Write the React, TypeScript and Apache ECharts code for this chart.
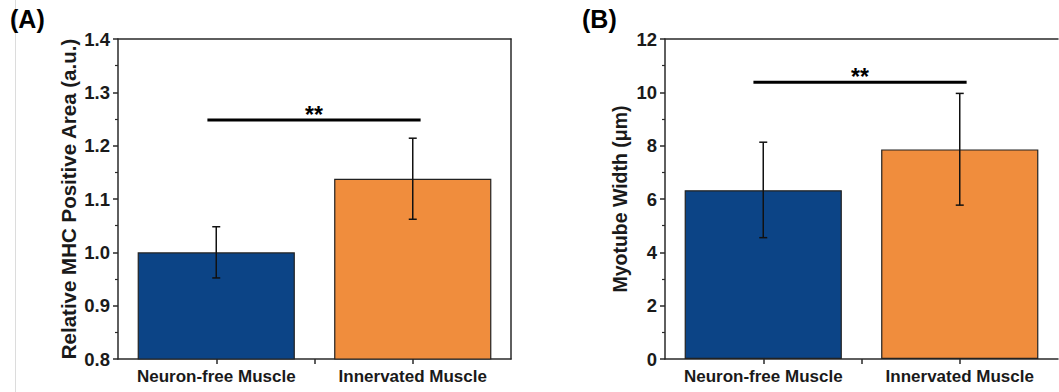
import React, { useEffect, useRef } from "react";
import * as echarts from "echarts";

const categories = ["Neuron-free Muscle", "Innervated Muscle"];
const barColors = ["#0c4486", "#f08d3d"];

// Panel A: Relative MHC Positive Area
const mhcMeans = [1.0, 1.138];
const mhcLow = [0.952, 1.062];
const mhcHigh = [1.048, 1.214];
const mhcSig = [0.455, 1.54, 1.248];

// Panel B: Myotube width
const widthMeans = [6.33, 7.86];
const widthLow = [4.55, 5.77];
const widthHigh = [8.13, 9.96];
const widthSig = [0.45, 1.535, 10.38];

const FONT = "'Liberation Sans', Arial, sans-serif";
const TXT = "#1a1a1a";
const AX = "#2a2a2a";

function errorSeries(xIdx: number, yIdx: number, low: number[], high: number[]) {
  return {
    type: "custom",
    xAxisIndex: xIdx,
    yAxisIndex: yIdx,
    silent: true,
    z: 5,
    data: low.map((l, i) => [i, l, high[i]]),
    renderItem: (params: any, api: any) => {
      const lo = api.coord([api.value(0), api.value(1)]);
      const hi = api.coord([api.value(0), api.value(2)]);
      const cap = 4;
      const style = { stroke: "#111", lineWidth: 1.5 };
      return {
        type: "group",
        children: [
          { type: "line", shape: { x1: lo[0], y1: lo[1], x2: hi[0], y2: hi[1] }, style },
          { type: "line", shape: { x1: lo[0] - cap, y1: lo[1], x2: lo[0] + cap, y2: lo[1] }, style },
          { type: "line", shape: { x1: hi[0] - cap, y1: hi[1], x2: hi[0] + cap, y2: hi[1] }, style },
        ],
      };
    },
  };
}

function sigSeries(xIdx: number, yIdx: number, sig: number[]) {
  return {
    type: "custom",
    xAxisIndex: xIdx,
    yAxisIndex: yIdx,
    silent: true,
    z: 6,
    data: [sig],
    renderItem: (params: any, api: any) => {
      const a = api.coord([api.value(0), api.value(2)]);
      const b = api.coord([api.value(1), api.value(2)]);
      return {
        type: "group",
        children: [
          { type: "line", shape: { x1: a[0], y1: a[1], x2: b[0], y2: b[1] }, style: { stroke: "#000", lineWidth: 3 } },
          {
            type: "text",
            x: (a[0] + b[0]) / 2,
            y: a[1] - 5,
            style: { text: "**", fontSize: 23, fontWeight: "bold", fontFamily: FONT, fill: "#000", align: "center", verticalAlign: "middle" },
          },
        ],
      };
    },
  };
}

function catAxis(grid: number) {
  return {
    type: "category",
    gridIndex: grid,
    data: categories,
    position: "bottom",
    axisLine: { show: false },
    axisTick: { show: false },
    axisLabel: { interval: 0, margin: 9, fontSize: 17, fontWeight: "bold", fontFamily: FONT, color: TXT },
  };
}

function frameX(grid: number, pos: string, ticks: boolean) {
  return {
    type: "value",
    gridIndex: grid,
    position: pos,
    min: 0,
    max: 2,
    axisLine: { show: true, onZero: false, lineStyle: { color: AX, width: 1.5 } },
    axisTick: ticks
      ? { show: true, inside: false, length: 5, customValues: [0.5, 1, 1.5], lineStyle: { color: AX, width: 1.5 } }
      : { show: false },
    axisLabel: { show: false },
    splitLine: { show: false },
  };
}

function valueY(grid: number, min: number, max: number, interval: number, digits: number, name: string, gap: number, nameSize: number) {
  return {
    type: "value",
    gridIndex: grid,
    position: "left",
    min,
    max,
    interval,
    name,
    nameLocation: "middle",
    nameGap: gap,
    nameTextStyle: { fontSize: nameSize, fontWeight: "bold", fontFamily: FONT, color: TXT },
    axisLine: { show: true, onZero: false, lineStyle: { color: AX, width: 1.5 } },
    axisTick: { show: true, inside: false, length: 5, lineStyle: { color: AX, width: 1.5 } },
    minorTick: { show: true, splitNumber: 2, length: 3, lineStyle: { color: AX, width: 1.2 } },
    axisLabel: {
      margin: 8,
      fontSize: 18.5,
      fontWeight: "bold",
      fontFamily: FONT,
      color: TXT,
      formatter: (v: number) => v.toFixed(digits),
    },
    splitLine: { show: false },
  };
}

export default function App() {
  const ref = useRef<HTMLDivElement>(null);
  useEffect(() => {
    if (!ref.current) return;
    const chart = echarts.init(ref.current, null, { renderer: "svg" });
    chart.setOption({
      animation: false,
      backgroundColor: "#ffffff",
      grid: [
        { left: 118, top: 39, width: 393, height: 320 },
        { left: 665, top: 39, width: 393, height: 320 },
      ],
      xAxis: [
        catAxis(0),
        frameX(0, "bottom", true),
        frameX(0, "top", false),
        catAxis(1),
        frameX(1, "bottom", true),
        frameX(1, "top", false),
      ],
      yAxis: [
        valueY(0, 0.8, 1.4, 0.1, 1, "Relative MHC Positive Area (a.u.)", 39, 20.5),
        {
          type: "value",
          gridIndex: 0,
          position: "right",
          min: 0.8,
          max: 1.4,
          axisLine: { show: true, onZero: false, lineStyle: { color: AX, width: 1.5 } },
          axisTick: { show: false },
          axisLabel: { show: false },
          splitLine: { show: false },
        },
        valueY(1, 0, 12, 2, 0, "Myotube Width (μm)", 35, 19.5),
      ],
      graphic: [
        { type: "line", shape: { x1: 15.5, y1: 0, x2: 15.5, y2: 392 }, style: { stroke: "#dcdcdc", lineWidth: 1 } },
        { type: "text", left: 10, top: 6, style: { text: "(A)", fontSize: 25, fontWeight: "bold", fontFamily: FONT, fill: "#000" } },
        { type: "text", left: 582, top: 6, style: { text: "(B)", fontSize: 25, fontWeight: "bold", fontFamily: FONT, fill: "#000" } },
      ],
      series: [
        {
          type: "bar",
          xAxisIndex: 0,
          yAxisIndex: 0,
          barCategoryGap: "20%",
          data: mhcMeans.map((v, i) => ({ value: v, itemStyle: { color: barColors[i] } })),
          itemStyle: { borderColor: "#222", borderWidth: 1.2 },
        },
        errorSeries(0, 0, mhcLow, mhcHigh),
        sigSeries(1, 0, mhcSig),
        {
          type: "bar",
          xAxisIndex: 3,
          yAxisIndex: 2,
          barCategoryGap: "20%",
          data: widthMeans.map((v, i) => ({ value: v, itemStyle: { color: barColors[i] } })),
          itemStyle: { borderColor: "#222", borderWidth: 1.2 },
        },
        errorSeries(3, 2, widthLow, widthHigh),
        sigSeries(4, 2, widthSig),
      ],
    });
    return () => chart.dispose();
  }, []);
  return <div ref={ref} style={{ width: 1059, height: 392, position: "fixed", left: 0, top: 0 }} />;
}
